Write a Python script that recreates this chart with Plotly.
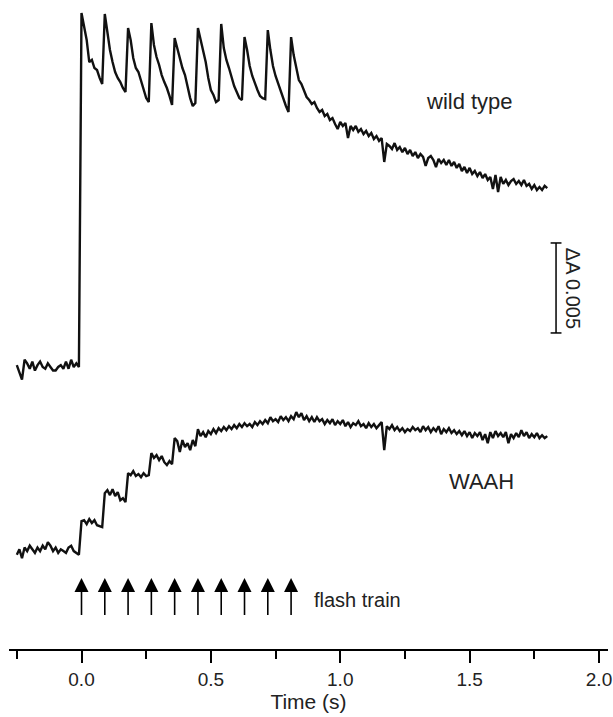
import numpy as np
import plotly.graph_objects as go

# Absorbance change traces, in units of ΔA x 10^-3, sampled every 10 ms from -0.25 s
T_START, DT = -0.25, 0.01

wild_type_pre = [0.1, -0.3, -0.7, 0.4, 0.2, -0.1, 0.3, -0.2, 0.1, 0.3, 0.0, -0.1, 0.2,
                 0.0, -0.2, -0.2, 0.0, 0.1, -0.1, 0.3, -0.1, 0.4, 0.0, 0.2, 0.0]
wild_type_flashes = [
    19.67, 18.83, 18.17, 16.94, 17.06, 16.61, 16.5, 16.06, 15.72,
    19.61, 18.61, 17.61, 16.94, 16.39, 16.06, 15.83, 15.5, 15.28,
    18.83, 18.17, 17.17, 16.61, 16.39, 15.94, 15.5, 14.94, 14.72,
    19.11, 17.89, 17.22, 16.78, 16.22, 15.83, 15.5, 15.06, 14.56,
    18.28, 17.72, 17.17, 16.61, 16.22, 15.5, 14.94, 14.5, 14.67,
    18.83, 18.17, 17.5, 16.94, 16.06, 15.39, 15.11, 14.72, 14.83,
    19.06, 17.72, 17.06, 16.61, 16.06, 15.61, 15.28, 14.94, 14.83,
    18.33, 17.61, 16.72, 16.17, 15.72, 15.39, 15.06, 14.94, 14.89,
    18.72, 17.61, 16.72, 16.17, 15.72, 15.28, 14.94, 14.5, 14.17,
]
wild_type_post = [
    18.33, 17.33, 16.61, 15.94, 15.72, 15.39, 15.0, 14.83, 14.61, 14.72,
    14.39, 14.17, 14.28, 13.94, 14.06, 13.72, 13.83, 13.5, 13.22, 13.61,
    13.39, 13.56, 12.72, 13.39, 13.17, 13.39, 13.06, 13.22, 12.94, 13.11,
    12.83, 13.0, 12.67, 12.83, 12.56, 12.72, 11.39, 12.39, 12.28, 12.11,
    12.44, 12.06, 12.22, 11.94, 12.17, 11.83, 12.06, 11.72, 11.94, 11.61,
    11.83, 11.67, 11.17, 11.61, 11.72, 11.5, 11.11, 11.56, 11.33, 11.5,
    11.22, 11.5, 11.17, 11.39, 11.06, 11.28, 10.89, 11.11, 10.78, 11.06,
    10.72, 10.89, 10.61, 10.83, 10.5, 10.72, 10.39, 10.56, 9.89, 10.67,
    9.72, 10.56, 10.17, 10.39, 10.11, 10.33, 10.44, 10.17, 10.33, 10.11,
    10.39, 10.06, 10.17, 9.89, 10.11, 9.83, 10.0, 9.83, 10.06, 9.94,
]
waah_pre = [-0.2, 0.1, -0.4, 0.2, 0.0, 0.3, 0.1, -0.1, 0.2, 0.0, 0.3, 0.1, 0.5,
            0.3, 0.0, 0.2, -0.1, 0.1, 0.0, -0.1, 0.2, 0.3, 0.0, -0.1, -0.2]
waah_post = [
    1.67, 1.72, 1.5, 1.78, 1.56, 1.72, 1.44, 1.39, 1.33, 3.22,
    3.39, 3.11, 3.44, 3.06, 3.28, 2.83, 2.94, 2.72, 4.33, 4.22,
    4.44, 4.17, 4.28, 4.11, 4.33, 4.17, 4.22, 5.44, 5.17, 5.33,
    5.06, 5.28, 4.94, 4.78, 5.0, 4.83, 6.28, 6.11, 5.5, 6.17,
    5.78, 6.0, 5.61, 6.17, 5.83, 6.78, 6.39, 6.61, 6.33, 6.67,
    6.5, 6.78, 6.56, 6.83, 6.67, 6.89, 6.72, 6.94, 6.78, 7.0,
    6.83, 7.06, 6.89, 7.11, 6.94, 7.06, 6.89, 7.17, 7.0, 7.22,
    7.06, 7.28, 7.11, 7.44, 7.22, 7.33, 7.17, 7.5, 7.28, 7.44,
    7.22, 7.5, 7.33, 7.72, 7.44, 7.67, 7.28, 7.5, 7.22, 7.44,
    7.17, 7.44, 7.22, 7.33, 7.06, 7.28, 7.11, 7.33, 7.0, 7.22,
    7.06, 7.28, 6.94, 7.17, 6.89, 7.11, 7.0, 7.22, 6.94, 7.06,
    6.83, 7.11, 6.89, 7.06, 6.83, 7.0, 7.17, 5.61, 6.94, 6.78,
    7.0, 6.72, 6.89, 6.67, 6.83, 6.61, 6.78, 6.67, 6.89, 6.72,
    6.83, 6.61, 6.94, 6.72, 6.89, 6.61, 6.83, 6.67, 6.94, 6.5,
    6.78, 6.61, 6.83, 6.56, 6.72, 6.5, 6.67, 6.44, 6.67, 6.39,
    6.61, 6.28, 6.56, 6.39, 6.61, 6.17, 6.5, 6.0, 6.61, 6.28,
    6.67, 6.39, 6.56, 6.33, 6.61, 6.0, 6.5, 6.28, 6.56, 6.33,
    6.72, 6.39, 6.61, 6.28, 6.5, 6.33, 6.56, 6.28, 6.44, 6.28, 6.39,
]
flash_times = [0.0, 0.09, 0.18, 0.27, 0.36, 0.45, 0.54, 0.63, 0.72, 0.81]
x_tick_values = [0.0, 0.5, 1.0, 1.5, 2.0]
scale_bar_dA = 5.0  # ΔA 0.005 in units of 10^-3
labels = {"wt": "wild type", "waah": "WAAH", "flash": "flash train",
          "scale": "ΔA 0.005", "xtitle": "Time (s)"}

wild_type = wild_type_pre + wild_type_flashes + wild_type_post
waah = waah_pre + waah_post
assert len(wild_type) == len(waah) == 206
t = np.round(T_START + DT * np.arange(len(wild_type)), 3)

# layout constants (vertical placement of traces on the page)
WT_OFFSET = 15.67
WAAH_OFFSET = 5.44
Y_MAX = 36.06
FONT = "Liberation Sans, Arial, sans-serif"
TXT = "#222222"

fig = go.Figure()
fig.add_trace(go.Scatter(x=t, y=np.array(wild_type) + WT_OFFSET, mode="lines",
                         line=dict(color="#111111", width=2.4), hoverinfo="skip"))
fig.add_trace(go.Scatter(x=t, y=np.array(waah) + WAAH_OFFSET, mode="lines",
                         line=dict(color="#111111", width=2.4), hoverinfo="skip"))

# flash arrows
ARROW_TIP, ARROW_BASE = 3.94, 1.89
sx, sy = [], []
for ft in flash_times:
    sx += [ft, ft, None]
    sy += [ARROW_BASE, ARROW_TIP - 0.5, None]
fig.add_trace(go.Scatter(x=sx, y=sy, mode="lines", line=dict(color="black", width=1.6),
                         hoverinfo="skip"))
fig.add_trace(go.Scatter(x=flash_times, y=[ARROW_TIP] * len(flash_times), mode="markers",
                         marker=dict(symbol="arrow-up", size=14, color="black",
                                     line=dict(width=0)), hoverinfo="skip"))

# scale bar
SB_X, SB_Y0, SB_CAP = 1.834, 17.56, 0.021
fig.add_trace(go.Scatter(
    x=[SB_X, SB_X, None, SB_X - SB_CAP, SB_X + SB_CAP, None, SB_X - SB_CAP, SB_X + SB_CAP],
    y=[SB_Y0, SB_Y0 + scale_bar_dA, None, SB_Y0, SB_Y0, None,
       SB_Y0 + scale_bar_dA, SB_Y0 + scale_bar_dA],
    mode="lines", line=dict(color="black", width=1.5), hoverinfo="skip"))

fig.add_annotation(x=1.90, y=SB_Y0 + scale_bar_dA / 2, text=labels["scale"], textangle=90,
                   showarrow=False, font=dict(family=FONT, size=20, color=TXT))
fig.add_annotation(x=1.50, y=30.4, text=labels["wt"], showarrow=False,
                   font=dict(family=FONT, size=22, color=TXT))
fig.add_annotation(x=1.545, y=9.28, text=labels["waah"], showarrow=False,
                   font=dict(family=FONT, size=22, color=TXT))
fig.add_annotation(x=0.89, y=2.72, text=labels["flash"], showarrow=False, xanchor="left",
                   font=dict(family=FONT, size=20, color=TXT))

fig.update_layout(
    width=613, height=717, showlegend=False,
    margin=dict(l=9, r=5, t=0, b=68),
    paper_bgcolor="white", plot_bgcolor="white",
    xaxis=dict(range=[-0.2802, 2.0348], showgrid=False, zeroline=False,
               showline=True, linecolor="black", linewidth=2,
               tickmode="array", tickvals=x_tick_values, tickformat=".1f",
               ticks="outside", ticklen=12, tickwidth=2, tickcolor="black",
               ticklabelstandoff=0,
               tickfont=dict(family=FONT, size=19, color=TXT),
               minor=dict(tickmode="linear", tick0=0, dtick=0.25, ticks="outside",
                          ticklen=8, tickwidth=2, tickcolor="black"),
               title=dict(text=labels["xtitle"], standoff=3,
                          font=dict(family=FONT, size=21, color=TXT))),
    yaxis=dict(range=[0, Y_MAX], visible=False, fixedrange=True),
)

fig.write_html("out.html")
